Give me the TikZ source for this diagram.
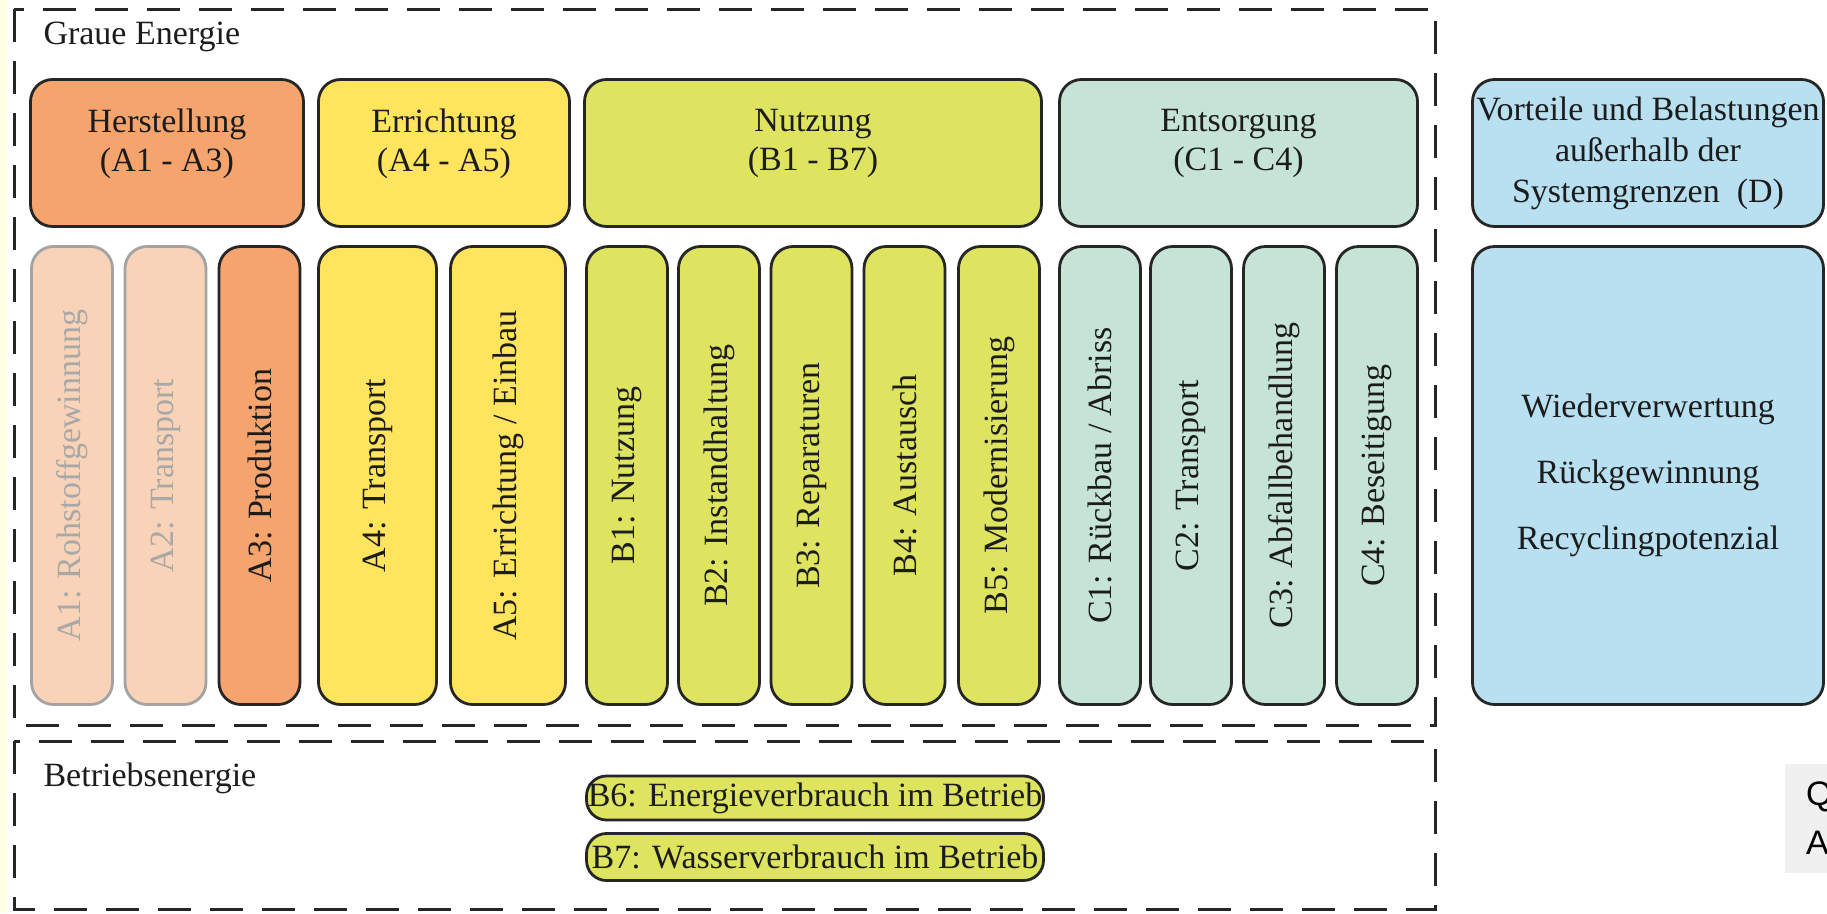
\documentclass[tikz,border=0pt]{standalone}
\usepackage{fontspec}
\setmainfont{Liberation Serif}
\newfontfamily\notefont{Liberation Sans}

\definecolor{edge}{HTML}{262626}
\definecolor{txt}{HTML}{1C1C1C}
\definecolor{fadeedge}{HTML}{A3A3A3}
\definecolor{fadetxt}{HTML}{A8A8A8}
\definecolor{herst}{HTML}{F4A46C}
\definecolor{peach}{HTML}{F9D3B7}
\definecolor{erricht}{HTML}{FFE45E}
\definecolor{nutz}{HTML}{DEE460}
\definecolor{entsorg}{HTML}{C6E4D6}
\definecolor{extern}{HTML}{B8E0F0}
\definecolor{strip}{HTML}{FFFDE4}
\definecolor{notebg}{HTML}{F0F0F0}

\begin{document}
\begin{tikzpicture}[x=1pt,y=-1pt,
  every node/.style={font=\fontsize{34}{39}\selectfont, text=txt},
  box/.style={draw=edge, line width=2.8pt, rounded corners=22pt, inner sep=0pt},
  hdr/.style={box, minimum height=147pt, align=center, text depth=26pt},
  col/.style={box, rotate=90, minimum width=458pt, minimum height=81pt},
  faint/.style={draw=fadeedge, text=fadetxt},
  sysframe/.style={draw=edge, line width=3pt, dash pattern=on 33pt off 19pt}
]
  \useasboundingbox (0,0) rectangle (1827,913);
  \fill[strip] (0,0) rectangle (7,913);

  % system boundaries
  \draw[sysframe] (14,9) rectangle (1435,725);
  \draw[sysframe] (14,741) rectangle (1435,909);
  \node[anchor=west] (graue) at (40,37) {Graue Energie};
  \node[anchor=west] (betrieb) at (40,778) {Betriebsenergie};

  % module groups
  \node[hdr, fill=herst, minimum width=273pt] (herst) at (167,153) {Herstellung\\(A1 - A3)};
  \node[hdr, fill=erricht, minimum width=251pt] (erricht) at (444,153) {Errichtung\\(A4 - A5)};
  \node[hdr, fill=nutz, minimum width=457pt] (nutz) at (813,153) {Nutzung\\(B1 - B7)};
  \node[hdr, fill=entsorg, minimum width=358pt] (entsorg) at (1238.5,153) {Entsorgung\\(C1 - C4)};
  \node[box, fill=extern, minimum width=351pt, minimum height=147pt, align=center,
        font=\fontsize{34}{41}\selectfont] (ext) at (1648,153)
        {Vorteile und Belastungen\\au\ss erhalb der\\Systemgrenzen\ \ (D)};

  % single modules
  \node[col, faint, fill=peach] (a1) at (72,475.5) {A1: Rohstoffgewinnung};
  \node[col, faint, fill=peach] (a2) at (165.5,475.5) {A2: Transport};
  \node[col, fill=herst] (a3) at (259.5,475.5) {A3: Produktion};
  \node[col, fill=erricht, minimum height=118pt] (a4) at (377.5,475.5) {A4: Transport};
  \node[col, fill=erricht, minimum height=115pt] (a5) at (508,475.5) {A5: Errichtung / Einbau};
  \node[col, fill=nutz] (b1) at (627,475.5) {B1: Nutzung};
  \node[col, fill=nutz] (b2) at (719,475.5) {B2: Instandhaltung};
  \node[col, fill=nutz] (b3) at (811.5,475.5) {B3: Reparaturen};
  \node[col, fill=nutz] (b4) at (904.5,475.5) {B4: Austausch};
  \node[col, fill=nutz] (b5) at (999,475.5) {B5: Modernisierung};
  \node[col, fill=entsorg] (c1) at (1100,475.5) {C1: R\"uckbau / Abriss};
  \node[col, fill=entsorg] (c2) at (1191,475.5) {C2: Transport};
  \node[col, fill=entsorg] (c3) at (1284,475.5) {C3: Abfallbehandlung};
  \node[col, fill=entsorg] (c4) at (1377,475.5) {C4: Beseitigung};
  \node[box, fill=extern, minimum width=351pt, minimum height=458pt, align=center] (recyc) at (1648,475.5)
        {Wiederverwertung\\[27pt]R\"uckgewinnung\\[27pt]Recyclingpotenzial};

  % operational energy
  \node[box, fill=nutz, rounded corners=20pt, minimum width=457pt, minimum height=44pt] (b6) at (815,798)
        {B6: Energieverbrauch im Betrieb};
  \node[box, fill=nutz, rounded corners=20pt, minimum width=457pt, minimum height=47pt] (b7) at (815,857)
        {B7: Wasserverbrauch im Betrieb};

  % cut-off note
  \fill[notebg] (1785,764) rectangle (1827,873);
  \node[anchor=west, inner sep=0pt, font=\notefont\fontsize{34}{39}\selectfont, text=black] (noteq) at (1806,797) {Q};
  \node[anchor=west, inner sep=0pt, font=\notefont\fontsize{34}{39}\selectfont, text=black] (notea) at (1806,843) {A};
\end{tikzpicture}
\end{document}
